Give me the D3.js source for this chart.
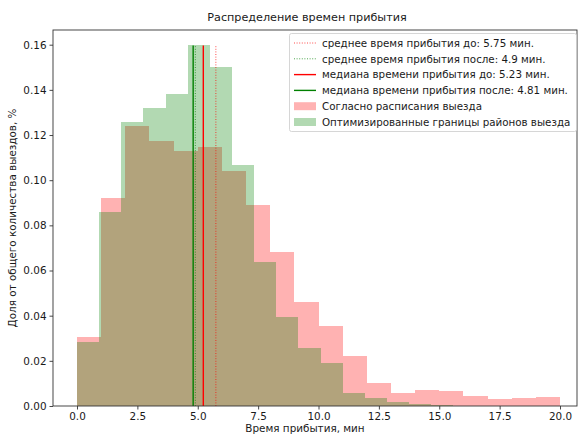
<!DOCTYPE html>
<html>
<head>
<meta charset="utf-8">
<script src="https://cdn.jsdelivr.net/npm/d3@7"></script>
<style>
  body { margin: 0; background: #fff; }
  text { font-family: "DejaVu Sans", sans-serif; fill: #1a1a1a; }
</style>
</head>
<body>
<script>
// share of calls per bin, "before" (current schedule) and "after" (optimised borders)
var beforeBinWidth = 1;
var beforeValues = [0.0307, 0.0923, 0.1240, 0.1175, 0.1130, 0.1145, 0.1040, 0.0890, 0.0683, 0.0462,
                    0.0356, 0.0223, 0.0102, 0.0059, 0.0070, 0.0068, 0.0043, 0.0030, 0.0035, 0.0040];
var afterBinWidth = 0.9167;
var afterValues = [0.0282, 0.0861, 0.1259, 0.1318, 0.1382, 0.1597, 0.1503, 0.1067, 0.0639, 0.0395,
                   0.0258, 0.0192, 0.0059, 0.0034, 0.0019, 0.0007, 0.0005, 0, 0, 0];

var markers = [
  {label: "среднее время прибытия до: 5.75 мин.", value: 5.75, color: "#ff0000", dash: true},
  {label: "среднее время прибытия после: 4.9 мин.", value: 4.9, color: "#008000", dash: true},
  {label: "медиана времени прибытия до: 5.23 мин.", value: 5.23, color: "#ff0000", dash: false},
  {label: "медиана времени прибытия после: 4.81 мин.", value: 4.81, color: "#008000", dash: false}
];
var histLabels = ["Согласно расписания выезда", "Оптимизированные границы районов выезда"];

var xTicks = [0, 2.5, 5, 7.5, 10, 12.5, 15, 17.5, 20];
var yTicks = [0, 0.02, 0.04, 0.06, 0.08, 0.10, 0.12, 0.14, 0.16];

var width = 579, height = 435;
var plotLeft = 53, plotRight = 577, plotTop = 30, plotBottom = 406;

var svg = d3.select("body").append("svg")
    .attr("width", width)
    .attr("height", height);

var x = d3.scaleLinear().domain([0, 20]).range([77, 560]);
var y = d3.scaleLinear().domain([0, 0.16]).range([plotBottom, 44.7]);

var toBins = function(values, w) {
  return values.map(function(v, i) { return {x0: i * w, x1: (i + 1) * w, v: v}; });
};

svg.append("g")
  .selectAll("rect")
    .data(toBins(beforeValues, beforeBinWidth))
  .enter().append("rect")
    .attr("x", function(d) { return x(d.x0); })
    .attr("width", function(d) { return x(d.x1) - x(d.x0); })
    .attr("y", function(d) { return y(d.v); })
    .attr("height", function(d) { return y(0) - y(d.v); })
    .attr("fill", "#ff0000")
    .attr("fill-opacity", 0.3)
    .attr("shape-rendering", "crispEdges");

svg.append("g")
  .selectAll("rect")
    .data(toBins(afterValues, afterBinWidth).filter(function(d) { return d.v > 0; }))
  .enter().append("rect")
    .attr("x", function(d) { return x(d.x0); })
    .attr("width", function(d) { return x(d.x1) - x(d.x0); })
    .attr("y", function(d) { return y(d.v); })
    .attr("height", function(d) { return y(0) - y(d.v); })
    .attr("fill", "#008000")
    .attr("fill-opacity", 0.3)
    .attr("shape-rendering", "crispEdges");

// vertical markers, from 0 to the top of the tallest bar
var lineTop = d3.max(afterValues.concat(beforeValues));
svg.append("g")
  .selectAll("line")
    .data(markers)
  .enter().append("line")
    .attr("x1", function(d) { return x(d.value); })
    .attr("x2", function(d) { return x(d.value); })
    .attr("y1", y(0))
    .attr("y2", y(lineTop))
    .attr("stroke", function(d) { return d.color; })
    .attr("stroke-width", function(d) { return d.dash ? 1 : 1.4; })
    .attr("stroke-opacity", function(d) { return d.dash ? 0.7 : 1; })
    .attr("stroke-dasharray", function(d) { return d.dash ? "1,1.6" : null; });

// axes frame
svg.append("rect")
    .attr("x", plotLeft).attr("y", plotTop)
    .attr("width", plotRight - plotLeft).attr("height", plotBottom - plotTop)
    .attr("fill", "none").attr("stroke", "#333").attr("stroke-width", 0.9);

var xAxis = svg.append("g")
    .attr("transform", "translate(0," + plotBottom + ")")
    .call(d3.axisBottom(x).tickValues(xTicks).tickFormat(d3.format(".1f")).tickSize(3.5).tickPadding(3));
var yAxis = svg.append("g")
    .attr("transform", "translate(" + plotLeft + ",0)")
    .call(d3.axisLeft(y).tickValues(yTicks).tickFormat(d3.format(".2f")).tickSize(3.5).tickPadding(3));
[xAxis, yAxis].forEach(function(a) {
  a.select(".domain").remove();
  a.selectAll("line").attr("stroke", "#333").attr("stroke-width", 0.9);
  a.selectAll("text").attr("font-size", "10.4px").attr("font-family", "DejaVu Sans").attr("fill", "#1a1a1a");
});

svg.append("text")
    .attr("x", 307).attr("y", 21)
    .attr("text-anchor", "middle")
    .attr("font-size", "11.2px")
    .text("Распределение времен прибытия");

svg.append("text")
    .attr("x", 305).attr("y", 432)
    .attr("text-anchor", "middle")
    .attr("font-size", "10.4px")
    .text("Время прибытия, мин");

svg.append("text")
    .attr("transform", "translate(16," + ((plotTop + plotBottom) / 2) + ") rotate(-90)")
    .attr("text-anchor", "middle")
    .attr("font-size", "10.4px")
    .text("Доля от общего количества выездов, %");

// legend
var legend = svg.append("g").attr("transform", "translate(289,33)");
legend.append("rect")
    .attr("x", 0.5).attr("y", 0.5)
    .attr("width", 287).attr("height", 98)
    .attr("rx", 2)
    .attr("fill", "#fff").attr("fill-opacity", 0.8)
    .attr("stroke", "#ccc").attr("stroke-width", 0.8);

var rowY = function(i) { return 10 + i * 15.8; };
markers.forEach(function(d, i) {
  legend.append("line")
      .attr("x1", 5).attr("x2", 27)
      .attr("y1", rowY(i)).attr("y2", rowY(i))
      .attr("stroke", d.color)
      .attr("stroke-width", d.dash ? 1 : 1.4)
      .attr("stroke-opacity", d.dash ? 0.7 : 1)
      .attr("stroke-dasharray", d.dash ? "1,1.6" : null);
  legend.append("text")
      .attr("x", 33).attr("y", rowY(i) + 3.8)
      .attr("font-size", "10.3px")
      .text(d.label);
});
["#ff0000", "#008000"].forEach(function(c, j) {
  var i = markers.length + j;
  legend.append("rect")
      .attr("x", 5).attr("y", rowY(i) - 4)
      .attr("width", 22).attr("height", 8)
      .attr("fill", c).attr("fill-opacity", 0.3);
  legend.append("text")
      .attr("x", 33).attr("y", rowY(i) + 3.8)
      .attr("font-size", "10.3px")
      .text(histLabels[j]);
});
</script>
</body>
</html>
